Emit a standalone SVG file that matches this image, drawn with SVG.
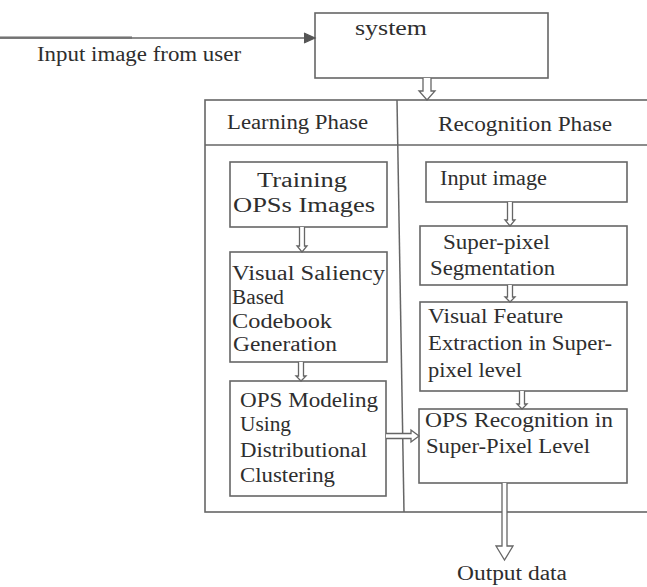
<svg xmlns="http://www.w3.org/2000/svg" width="647" height="587" viewBox="0 0 647 587">
<style>
.bx{fill:none;stroke:#666;stroke-width:1.6}
.ln{fill:none;stroke:#666;stroke-width:1.5}
.ha{fill:#fff;stroke:#666;stroke-width:1.3;stroke-linejoin:miter}
.t{font-family:"Liberation Serif","Times New Roman",serif;font-size:20px;fill:#2e2e2e}
</style>
<rect width="647" height="587" fill="#fff"/>
<g id="frame">
<rect class="bx" x="205" y="100" width="446" height="412"/>
<line class="ln" x1="205" y1="145" x2="647" y2="145"/>
<line class="ln" x1="397" y1="100" x2="404" y2="512"/>
<text class="t" x="227" y="129" textLength="141" lengthAdjust="spacingAndGlyphs">Learning Phase</text>
<text class="t" x="438" y="131" textLength="174" lengthAdjust="spacingAndGlyphs">Recognition Phase</text>
</g>
<g id="input-label">
<text class="t" x="37" y="61" textLength="204" lengthAdjust="spacingAndGlyphs">Input image from user</text>
</g>
<g id="system">
<rect class="bx" x="315" y="13" width="233" height="65"/>
<text class="t" x="355" y="35" textLength="72" lengthAdjust="spacingAndGlyphs">system</text>
</g>
<g id="training">
<rect class="bx" x="230" y="162" width="157" height="65"/>
<text class="t" x="257" y="187" textLength="90" lengthAdjust="spacingAndGlyphs">Training</text>
<text class="t" x="233" y="212" textLength="142" lengthAdjust="spacingAndGlyphs">OPSs Images</text>
</g>
<g id="saliency">
<rect class="bx" x="230" y="252" width="157" height="110"/>
<text class="t" x="232" y="280" textLength="153" lengthAdjust="spacingAndGlyphs">Visual Saliency</text>
<text class="t" x="232" y="304" textLength="52" lengthAdjust="spacingAndGlyphs">Based</text>
<text class="t" x="232" y="328" textLength="100" lengthAdjust="spacingAndGlyphs">Codebook</text>
<text class="t" x="233" y="351" textLength="104" lengthAdjust="spacingAndGlyphs">Generation</text>
</g>
<g id="modeling">
<rect class="bx" x="230" y="381" width="156" height="115"/>
<text class="t" x="240" y="407" textLength="138" lengthAdjust="spacingAndGlyphs">OPS Modeling</text>
<text class="t" x="240" y="431" textLength="51" lengthAdjust="spacingAndGlyphs">Using</text>
<text class="t" x="240" y="457" textLength="127" lengthAdjust="spacingAndGlyphs">Distributional</text>
<text class="t" x="240" y="482" textLength="95" lengthAdjust="spacingAndGlyphs">Clustering</text>
</g>
<g id="input-image">
<rect class="bx" x="426" y="162" width="201" height="40"/>
<text class="t" x="440" y="185" textLength="107" lengthAdjust="spacingAndGlyphs">Input image</text>
</g>
<g id="segmentation">
<rect class="bx" x="420" y="226" width="207" height="59"/>
<text class="t" x="443" y="249" textLength="107" lengthAdjust="spacingAndGlyphs">Super-pixel</text>
<text class="t" x="430" y="275" textLength="125" lengthAdjust="spacingAndGlyphs">Segmentation</text>
</g>
<g id="feature">
<rect class="bx" x="420" y="302" width="207" height="89"/>
<text class="t" x="428" y="323" textLength="135" lengthAdjust="spacingAndGlyphs">Visual Feature</text>
<text class="t" x="428" y="350" textLength="184" lengthAdjust="spacingAndGlyphs">Extraction in Super-</text>
<text class="t" x="428" y="377" textLength="94" lengthAdjust="spacingAndGlyphs">pixel level</text>
</g>
<g id="recognition">
<rect class="bx" x="419" y="409" width="208" height="74"/>
<text class="t" x="425" y="427" textLength="188" lengthAdjust="spacingAndGlyphs">OPS Recognition in</text>
<text class="t" x="426" y="453" textLength="164" lengthAdjust="spacingAndGlyphs">Super-Pixel Level</text>
</g>
<g id="output">
<text class="t" x="457" y="580" textLength="110" lengthAdjust="spacingAndGlyphs">Output data</text>
</g>
<g id="connectors">
<line x1="0" y1="37.5" x2="132" y2="37.5" stroke="#9a9a9a" stroke-width="2.6"/>
<line class="ln" x1="0" y1="38" x2="313" y2="38"/>
<path d="M304,33 L315,38 L304,43" fill="#555" stroke="#555" stroke-width="1.2"/>
<path class="ha" d="M423,78 V91 H419 L427,100 L435,91 H431 V78"/>
<path class="ha" d="M299.5,227 V246 H297 L302,252 L307,246 H304.5 V227"/>
<path class="ha" d="M298.5,362 V376 H296 L301,381 L306,376 H303.5 V362"/>
<path class="ha" d="M507.5,202 V220 H505 L510,226 L515,220 H512.5 V202"/>
<path class="ha" d="M507.5,285 V297 H505 L510,302 L515,297 H512.5 V285"/>
<path class="ha" d="M519.5,391 V404 H517 L522,409 L527,404 H524.5 V391"/>
<path class="ha" d="M386,433.5 H411 V430 L419,436 L411,442 V438.5 H386"/>
<path class="ha" d="M502,483 V546 H496 L504.5,560 L513,546 H507 V483"/>
</g>
</svg>
